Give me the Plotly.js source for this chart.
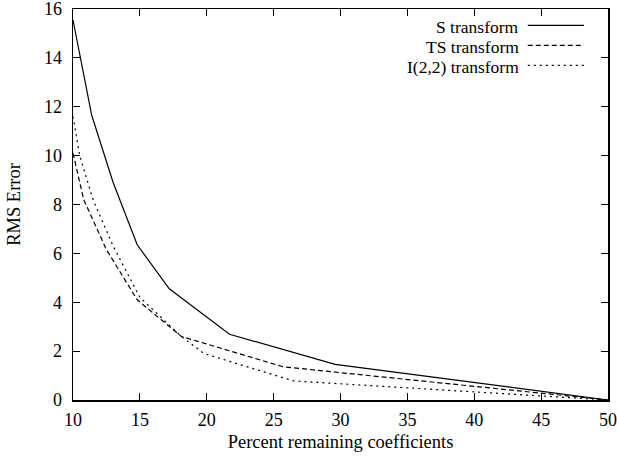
<!DOCTYPE html>
<html>
<head>
<meta charset="utf-8">
<script src="https://cdn.plot.ly/plotly-3.0.1.min.js"></script>
<style>html,body{margin:0;padding:0;background:#fff;}#chart{width:617px;height:461px;}</style>
</head>
<body>
<div id="chart"></div>
<script>
// Data
const seriesNames = ["S transform", "TS transform", "I(2,2) transform"];
const sX = [10, 11.4, 13, 14.8, 17.2, 21.7, 29.6, 50];
const sY = [15.55, 11.65, 8.9, 6.35, 4.55, 2.69, 1.46, 0];
const tsX = [10, 10.8, 12.5, 14.8, 18.1, 25.7, 50];
const tsY = [10.1, 8.2, 6.15, 4.1, 2.6, 1.36, 0];
const iX = [10, 10.5, 11.5, 13, 15, 18.1, 19.8, 26.5, 50];
const iY = [11.6, 10.0, 8.2, 6.3, 4.2, 2.6, 1.9, 0.78, 0];
const xTicks = [10, 15, 20, 25, 30, 35, 40, 45, 50];
const yTicks = [0, 2, 4, 6, 8, 10, 12, 14, 16];

const FONT = "Liberation Serif, Times New Roman, serif";
const dashes = ["solid", "5px,3px", "2px,4px"];
const xs = [sX, tsX, iX];
const ys = [sY, tsY, iY];

const traces = seriesNames.map((n, k) => ({
  x: xs[k], y: ys[k], name: n, type: "scatter", mode: "lines",
  line: {color: "#000", width: 1.2, dash: dashes[k]}, showlegend: false
}));

// custom legend: text right-aligned, sample line on the right (gnuplot style)
const legRowsY = [0.954, 0.903, 0.852];
const annotations = seriesNames.map((n, k) => ({
  xref: "paper", yref: "paper", x: 0.836, y: legRowsY[k],
  xanchor: "right", yanchor: "middle", showarrow: false, text: n,
  borderpad: 0,
  font: {family: FONT, size: 17.5, color: "#000"}
}));
const shapes = seriesNames.map((n, k) => ({
  type: "line", xref: "paper", yref: "paper",
  x0: 0.85, x1: 0.955, y0: legRowsY[k] + 0.004, y1: legRowsY[k] + 0.004,
  line: {color: "#000", width: 1.2, dash: dashes[k]}
}));

const layout = {
  width: 617, height: 461,
  margin: {l: 73, r: 9, t: 9, b: 61},
  paper_bgcolor: "#fff", plot_bgcolor: "#fff",
  font: {family: FONT, size: 18, color: "#000"},
  showlegend: false,
  xaxis: {
    range: [10, 50], tickvals: xTicks, ticktext: xTicks.map(String),
    ticks: "inside", ticklen: 7, tickcolor: "#000", tickwidth: 1.2,
    showline: true, linecolor: "#000", linewidth: 1.5, mirror: "ticks",
    showgrid: false, zeroline: false, ticklabelstandoff: 3,
    ticklabeloverflow: "allow",
    title: {text: "Percent remaining coefficients", font: {family: FONT, size: 18.5}, standoff: 6}
  },
  yaxis: {
    range: [0, 16], tickvals: yTicks, ticktext: yTicks.map(String),
    ticks: "inside", ticklen: 7, tickcolor: "#000", tickwidth: 1.2,
    showline: true, linecolor: "#000", linewidth: 1.5, mirror: "ticks",
    showgrid: false, zeroline: false, ticklabelstandoff: 6,
    ticklabeloverflow: "allow",
    title: {text: "RMS Error", font: {family: FONT, size: 18.5}, standoff: 18}
  },
  annotations: annotations,
  shapes: shapes
};

Plotly.newPlot("chart", traces, layout, {staticPlot: true, displayModeBar: false});
</script>
</body>
</html>
